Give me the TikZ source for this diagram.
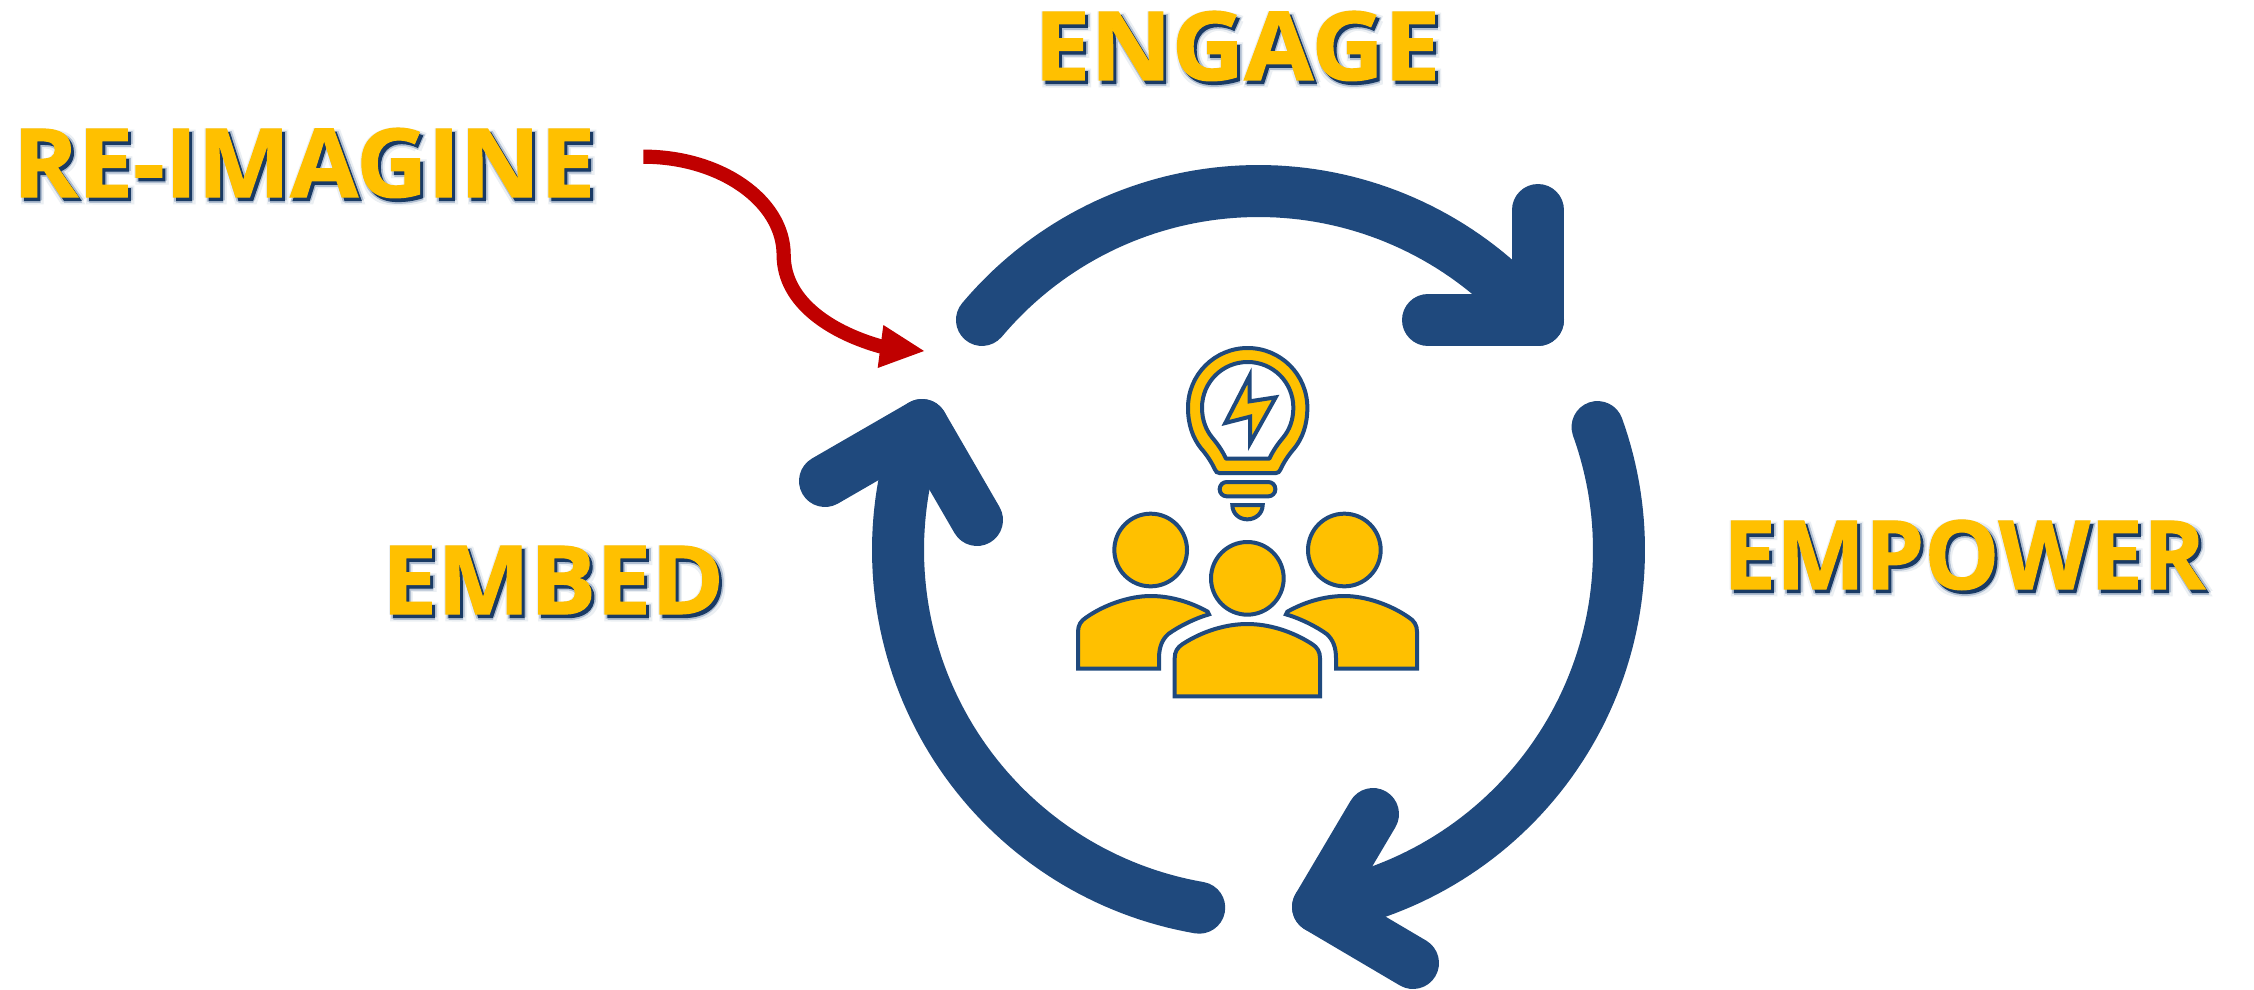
\documentclass[tikz,border=0pt]{standalone}
\usepackage{fontspec}
\usepackage{graphicx}
\newfontfamily\labfont{Open Sans}[BoldFeatures={FakeBold=1.2}]
\definecolor{navy}{HTML}{1F497D}
\definecolor{gold}{HTML}{FFC000}
\definecolor{crimson}{HTML}{C00000}
\newsavebox{\capbox}
\newcommand{\fitlabel}[2]{\resizebox{#1}{34pt}{\sbox{\capbox}{\labfont\bfseries E}\raisebox{0pt}[\ht\capbox][0pt]{\labfont\bfseries #2}}}
% one shadow layer: offset right (#1) and down (#2) in pt, colour #3, text box #4
\newcommand{\shadowlayer}[4]{\rlap{\kern#1\raisebox{-#2}{\textcolor{#3}{#4}}}}
\newcommand{\shadowed}[2]{%
  \shadowlayer{-0.6pt}{0pt}{navy!9}{\fitlabel{#1}{#2}}%
  \shadowlayer{0pt}{3.4pt}{navy!9}{\fitlabel{#1}{#2}}%
  \shadowlayer{3.2pt}{0.6pt}{navy!9}{\fitlabel{#1}{#2}}%
  \shadowlayer{3.2pt}{3.4pt}{navy!9}{\fitlabel{#1}{#2}}%
  \shadowlayer{0.6pt}{2pt}{navy!35}{\fitlabel{#1}{#2}}%
  \shadowlayer{2.4pt}{1.4pt}{navy!35}{\fitlabel{#1}{#2}}%
  \shadowlayer{1.6pt}{2.7pt}{navy!35}{\fitlabel{#1}{#2}}%
  \shadowlayer{1.5pt}{1.8pt}{navy!80!black}{\fitlabel{#1}{#2}}%
  \textcolor{gold}{\fitlabel{#1}{#2}}%
}
\tikzset{
  labeltext/.style={anchor=base west,inner sep=0pt,outer sep=0pt},
  cyclearrow/.style={draw=navy,line width=26pt,line cap=round,line join=round},
  iconpart/.style={draw=navy,line width=2pt,fill=gold,line join=miter,miter limit=6},
  iconhole/.style={draw=navy,line width=2pt,fill=white,line join=round},
}
\begin{document}
\begin{tikzpicture}[x=0.5pt,y=-0.5pt]
\useasboundingbox (0,0) rectangle (2254,990);
\fill[white] (0,0) rectangle (2254,990);

% cycle arrows
\coordinate (ta) at (1538,210); \coordinate (tb) at (1538,320); \coordinate (tc) at (1428,320);
\draw[cyclearrow] plot[domain=220:316,samples=70] ({1258.5+361*cos(\x)},{552+361*sin(\x)}) -- (tb);
\draw[cyclearrow] (ta) -- (tb) -- (tc);

\coordinate (ra) at (1373,814); \coordinate (rb) at (1318,907); \coordinate (rc) at (1413,963);
\draw[cyclearrow] plot[domain=-19.8:76,samples=70] ({1256+363*cos(\x)},{550+363*sin(\x)}) -- (rb);
\draw[cyclearrow] (ra) -- (rb) -- (rc);

\coordinate (la) at (825,481); \coordinate (lb) at (922,425); \coordinate (lc) at (977,520);
\draw[cyclearrow] plot[domain=99.8:196,samples=70] ({1261+363*cos(\x)},{550+363*sin(\x)}) -- (lb);
\draw[cyclearrow] (la) -- (lb) -- (lc);

% red arrow
\begin{scope}[shift={(620,130)},x=0.16667pt,y=-0.16667pt]
\coordinate (rs) at (70,80);
\coordinate (rm) at (491,375);
\coordinate (re) at (785,650);
\coordinate (rt) at (912,663);
\coordinate (ru) at (790,585);
\coordinate (rd) at (773,714);
\draw[crimson,line width=7.1pt] (rs) .. controls (302,80) and (491,213) .. (rm)
   .. controls (491,520) and (640,610) .. (re);
\fill[crimson] (ru) -- (rt) -- (rd) -- cycle;
\end{scope}

% light bulb
\begin{scope}[shift={(1100,330)},x=0.16667pt,y=-0.16667pt]
\draw[iconpart] (358,429) -- (528,429) .. controls (535,429) and (538,425) .. (541,419)
  .. controls (553,393) and (568,372) .. (583,355) .. controls (607,325) and (622,285) .. (622,233)
  .. controls (622,134) and (542,54) .. (443,54) .. controls (344,54) and (264,134) .. (264,233)
  .. controls (264,285) and (279,325) .. (303,355) .. controls (318,372) and (333,393) .. (345,419)
  .. controls (348,425) and (351,429) .. (358,429) -- cycle;
\draw[iconhole] (378,386) -- (508,386) .. controls (520,360) and (535,340) .. (550,322)
  .. controls (568,300) and (580,270) .. (580,233) .. controls (580,157) and (519,96) .. (443,96)
  .. controls (367,96) and (306,157) .. (306,233) .. controls (306,270) and (318,300) .. (336,322)
  .. controls (351,340) and (366,360) .. (378,386) -- cycle;
\draw[iconpart] (449,137) -- (449,214) -- (527,202) -- (450,340) -- (450,260) -- (376,279) -- cycle;
\draw[iconpart,rounded corners=3.5pt] (359,456) rectangle (526,499);
\draw[iconpart] (397,525) .. controls (397,550) and (417,568) .. (442,568)
  .. controls (467,568) and (488,550) .. (488,525) -- cycle;
\end{scope}

% people
\begin{scope}[shift={(1100,360)},x=0.16667pt,y=-0.16667pt]
\draw[iconpart] (152,570) circle[radius=109];
\draw[iconpart] (733,570) circle[radius=109];
\draw[iconpart] (442,655) circle[radius=109];
\draw[iconpart] (224,1009) -- (224,895) .. controls (224,875) and (232,862) .. (248,852)
  .. controls (310,812) and (380,792) .. (442,792) .. controls (504,792) and (574,812) .. (636,852)
  .. controls (652,862) and (660,875) .. (660,895) -- (660,1009) -- cycle;
\draw[iconpart] (708,926) -- (951,926) -- (951,815) .. controls (951,795) and (942,782) .. (926,772)
  .. controls (870,733) and (795,708) .. (733,708) .. controls (670,708) and (610,728) .. (562,755)
  -- (558,763) .. controls (600,775) and (650,800) .. (680,822) .. controls (698,838) and (708,860) .. (708,895) -- cycle;
\draw[iconpart] (177,926) -- (-66,926) -- (-66,815) .. controls (-66,795) and (-57,782) .. (-41,772)
  .. controls (15,733) and (90,708) .. (152,708) .. controls (215,708) and (275,728) .. (323,755)
  -- (327,763) .. controls (285,775) and (235,800) .. (205,822) .. controls (187,838) and (177,860) .. (177,895) -- cycle;
\end{scope}

% labels
\node[labeltext] (engage) at (1034,80) {\shadowed{203pt}{ENGAGE}};
\node[labeltext] (reimagine) at (13,197) {\shadowed{291pt}{RE-IMAGINE}};
\node[labeltext] (empower) at (1723,589) {\shadowed{241pt}{EMPOWER}};
\node[labeltext] (embed) at (382,614) {\shadowed{171pt}{EMBED}};
\end{tikzpicture}
\end{document}
